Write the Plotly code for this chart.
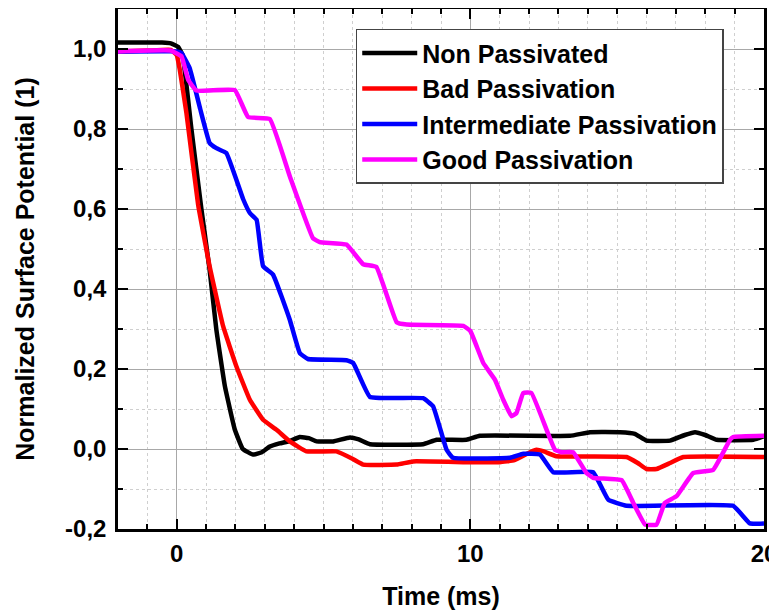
import plotly.graph_objects as go

# time (ms) and normalized surface potential
t_non = [-2, -0.5, -0.2, 0.05, 0.2, 0.5, 0.84, 1.12, 1.35, 1.64, 1.98, 2.25, 2.6, 2.9, 3.17,
         3.5, 3.85, 4.19, 4.5, 4.76, 5.33, 5.9, 6.2, 6.58, 8.39, 8.85, 9.87, 10.32, 13.39,
         14.07, 15.1, 15.6, 16.0, 16.8, 17.3, 17.65, 18.0, 18.39, 19.64, 20]
v_non = [1.016, 1.016, 1.014, 1.005, 0.985, 0.8, 0.6, 0.448, 0.298, 0.157, 0.048, 0.0, -0.014,
         -0.008, 0.006, 0.014, 0.02, 0.03, 0.027, 0.019, 0.019, 0.029, 0.024, 0.012, 0.012,
         0.023, 0.023, 0.033, 0.033, 0.042, 0.042, 0.038, 0.021, 0.021, 0.035, 0.042, 0.035,
         0.023, 0.023, 0.032]

t_bad = [-2, -1, -0.2, 0.0, 0.1, 0.33, 0.73, 1.12, 1.58, 2.03, 2.49, 2.94, 3.4, 3.85, 4.42,
         5.44, 6.0, 6.35, 7.49, 8.05, 9.87, 11.0, 11.5, 12.03, 12.25, 12.5, 12.93, 15.32,
         15.7, 16.0, 16.34, 16.8, 17.25, 20]
v_bad = [0.994, 0.996, 0.998, 0.985, 0.95, 0.84, 0.61, 0.457, 0.307, 0.207, 0.123, 0.073,
         0.048, 0.019, -0.006, -0.006, -0.025, -0.039, -0.039, -0.031, -0.033, -0.033,
         -0.028, -0.008, -0.002, -0.006, -0.018, -0.02, -0.035, -0.05, -0.05, -0.035, -0.02,
         -0.02]

t_int = [-2, 0, 0.16, 0.44, 0.8, 1.12, 1.35, 1.69, 2.26, 2.49, 2.72, 2.94, 3.28, 3.85, 4.19,
         4.47, 5.78, 6.01, 6.58, 8.39, 8.73, 9.19, 9.41, 11.35, 11.8, 12.37, 12.82, 14.18,
         14.7, 15.32, 18.95, 19.52, 20]
v_int = [0.994, 0.994, 0.99, 0.952, 0.85, 0.765, 0.752, 0.74, 0.625, 0.59, 0.573, 0.457,
         0.436, 0.323, 0.24, 0.225, 0.222, 0.215, 0.13, 0.127, 0.107, -0.002, -0.022, -0.022,
         -0.012, -0.014, -0.058, -0.058, -0.127, -0.142, -0.142, -0.186, -0.186]

t_good = [-2, -0.2, 0.16, 0.39, 0.67, 1.98, 2.43, 3.17, 3.85, 4.64, 4.87, 5.78, 6.35, 6.8,
          7.49, 7.83, 9.76, 10.0, 10.44, 10.84, 11.12, 11.4, 11.57, 11.8, 12.08, 12.88, 13.1,
          13.5, 13.95, 14.18, 15.15, 15.55, 15.95, 16.34, 16.62, 17.02, 17.59, 18.27, 18.84,
          18.95, 20]
v_good = [0.994, 0.996, 0.982, 0.923, 0.896, 0.897, 0.83, 0.825, 0.682, 0.527, 0.517, 0.511,
          0.462, 0.455, 0.317, 0.311, 0.308, 0.295, 0.215, 0.173, 0.123, 0.082, 0.09, 0.14,
          0.14, -0.002, -0.008, -0.008, -0.06, -0.072, -0.078, -0.135, -0.189, -0.189, -0.135,
          -0.118, -0.06, -0.052, 0.023, 0.03, 0.033]

x_ticks = [0, 10, 20]
x_labels = ["0", "10", "20"]
y_ticks = [-0.2, 0.0, 0.2, 0.4, 0.6, 0.8, 1.0]
y_labels = ["-0,2", "0,0", "0,2", "0,4", "0,6", "0,8", "1,0"]

series = [
    ("Non Passivated", t_non, v_non, "#000000"),
    ("Bad Passivation", t_bad, v_bad, "#ff0000"),
    ("Intermediate Passivation", t_int, v_int, "#0000ff"),
    ("Good Passivation", t_good, v_good, "#ff00ff"),
]

fig = go.Figure()
for name, t, v, c in series:
    fig.add_trace(go.Scatter(x=t, y=v, name=name, mode="lines",
                             line=dict(color=c, width=4.5, shape="spline", smoothing=0.3)))

font = "Liberation Sans, Arial, sans-serif"
axis_common = dict(
    showline=True, linecolor="black", linewidth=2.5, mirror="allticks",
    ticks="inside", ticklen=10, tickwidth=2, tickcolor="black",
    showgrid=True, gridcolor="#a8a8a8", gridwidth=1, zeroline=False,
    automargin=False, ticklabeloverflow="allow",
    tickfont=dict(family=font, size=24, color="black", weight="bold"),
)

fig.update_xaxes(
    range=[-2, 20], tickvals=x_ticks, ticktext=x_labels, ticklabelstandoff=1,
    title=dict(text="Time (ms)", font=dict(family=font, size=25, color="black", weight="bold"),
               standoff=22),
    minor=dict(dtick=1, tick0=0, ticks="inside", ticklen=5, tickwidth=1.5, tickcolor="black",
               showgrid=True, gridcolor="#cfcfcf", griddash="dot", gridwidth=1),
    **axis_common,
)
fig.update_yaxes(
    range=[-0.2, 1.1], tickvals=y_ticks, ticktext=y_labels, ticklabelstandoff=4,
    title=dict(text="Normalized Surface Potential (1)",
               font=dict(family=font, size=25, color="black", weight="bold"), standoff=24),
    minor=dict(dtick=0.1, tick0=0, ticks="inside", ticklen=5, tickwidth=1.5, tickcolor="black",
               showgrid=True, gridcolor="#cfcfcf", griddash="dot", gridwidth=1),
    **axis_common,
)

# page body adds an 8px offset, so the figure is a little smaller than the window
fig.update_layout(
    width=769, height=604,
    margin=dict(l=110, r=13, t=1, b=83),
    plot_bgcolor="white", paper_bgcolor="white",
    legend=dict(x=0.368, y=0.962, xanchor="left", yanchor="top",
                bgcolor="white", bordercolor="#444444", borderwidth=1.5,
                font=dict(family=font, size=25, color="black", weight="bold"),
                tracegroupgap=0, itemwidth=55),
)

fig.write_html("out.html")
